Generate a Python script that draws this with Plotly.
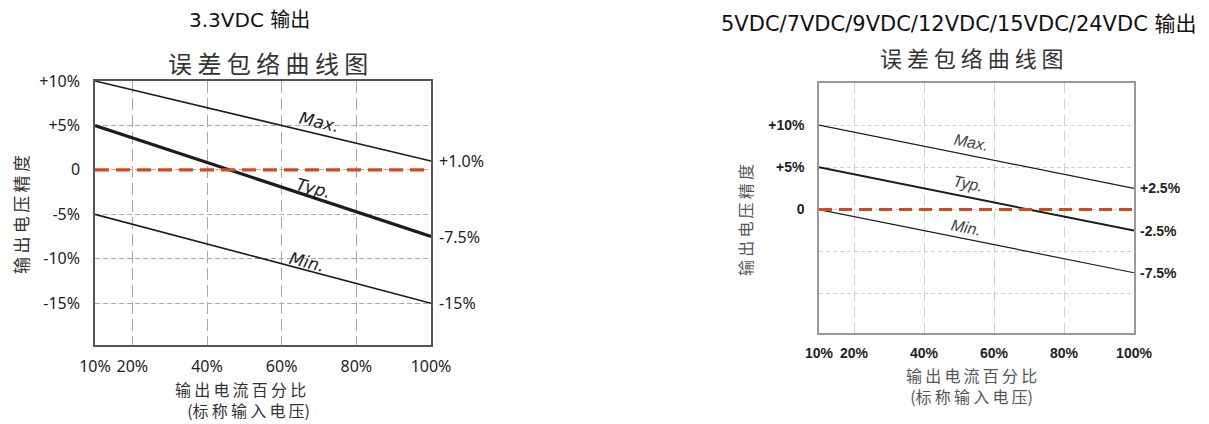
import plotly.graph_objects as go

# ---------------- data ----------------
x_pts = [10, 100]

left_max = [10, 1.0]
left_typ = [5, -7.5]
left_min = [-5, -15]

right_max = [10, 2.5]
right_typ = [5, -2.5]
right_min = [0, -7.5]

zero_line = [0, 0]

x_tickvals = [10, 20, 40, 60, 80, 100]
x_ticktext = ["10%", "20%", "40%", "60%", "80%", "100%"]

left_y_tickvals = [-15, -10, -5, 0, 5, 10]
left_y_ticktext = ["-15%", "-10%", "-5%", "0", "+5%", "+10%"]

right_y_tickvals = [-10, -5, 0, 5, 10]
right_y_ticktext = ["", "", "0", "+5%", "+10%"]

left_end_labels = ["+1.0%", "-7.5%", "-15%"]
right_end_labels = ["+2.5%", "-2.5%", "-7.5%"]

W, H = 1209, 424
OFF = 8  # page body margin
CJK = "Noto Sans CJK SC"
RED = "#d9481c"
INK = "#1c1c1c"


def px(v):
    return (v - OFF) / W


def py(v):
    return 1 - (v - OFF) / H


fig = go.Figure()

# left chart
fig.add_trace(go.Scatter(x=x_pts, y=left_max, mode="lines", line=dict(color=INK, width=1.6),
                         xaxis="x", yaxis="y", hoverinfo="skip"))
fig.add_trace(go.Scatter(x=x_pts, y=left_typ, mode="lines", line=dict(color=INK, width=3.2),
                         xaxis="x", yaxis="y", hoverinfo="skip"))
fig.add_trace(go.Scatter(x=x_pts, y=left_min, mode="lines", line=dict(color=INK, width=1.6),
                         xaxis="x", yaxis="y", hoverinfo="skip"))
fig.add_trace(go.Scatter(x=x_pts, y=zero_line, mode="lines",
                         line=dict(color=RED, width=3.2, dash="14px,7px"),
                         xaxis="x", yaxis="y", hoverinfo="skip"))

# right chart
fig.add_trace(go.Scatter(x=x_pts, y=right_max, mode="lines", line=dict(color=INK, width=1.2),
                         xaxis="x2", yaxis="y2", hoverinfo="skip"))
fig.add_trace(go.Scatter(x=x_pts, y=right_typ, mode="lines", line=dict(color=INK, width=2.0),
                         xaxis="x2", yaxis="y2", hoverinfo="skip"))
fig.add_trace(go.Scatter(x=x_pts, y=right_min, mode="lines", line=dict(color=INK, width=1.2),
                         xaxis="x2", yaxis="y2", hoverinfo="skip"))
fig.add_trace(go.Scatter(x=x_pts, y=zero_line, mode="lines",
                         line=dict(color=RED, width=3.2, dash="13px,7px"),
                         xaxis="x2", yaxis="y2", hoverinfo="skip"))

left_tick_font = dict(family="Noto Sans, DejaVu Sans", size=16, color="#222")
right_tick_font = dict(family="Liberation Sans, Arial", size=14, color="#222", weight="bold")

fig.update_layout(
    template="none",
    width=W, height=H,
    margin=dict(l=0, r=0, t=0, b=0, autoexpand=False),
    paper_bgcolor="white", plot_bgcolor="white",
    showlegend=False,
    xaxis=dict(domain=[px(95), px(431)], range=[10, 100], anchor="y", automargin=False,
               tickvals=x_tickvals, ticktext=x_ticktext, tickfont=left_tick_font,
               showgrid=True, gridcolor="#a8a8a8", gridwidth=1, griddash="12px,5px",
               showline=True, linecolor="#555", linewidth=1.5, mirror=True,
               ticks="", ticklabelstandoff=6, zeroline=False),
    yaxis=dict(domain=[py(345), py(81)], range=[-19.7, 10], anchor="x", automargin=False,
               tickvals=left_y_tickvals, ticktext=left_y_ticktext, tickfont=left_tick_font,
               showgrid=True, gridcolor="#a8a8a8", gridwidth=1, griddash="5px,3px",
               showline=True, linecolor="#555", linewidth=1.5, mirror=True,
               ticks="", ticklabelstandoff=10, zeroline=False),
    xaxis2=dict(domain=[px(819), px(1134)], range=[10, 100], anchor="y2", automargin=False,
                tickvals=x_tickvals, ticktext=x_ticktext, tickfont=right_tick_font,
                showgrid=True, gridcolor="#cfcfcf", gridwidth=1.2, griddash="10px,6px",
                showline=True, linecolor="#999", linewidth=1.5, mirror=True,
                ticks="", ticklabelstandoff=6, zeroline=False),
    yaxis2=dict(domain=[py(333), py(83)], range=[-14.64, 15], anchor="x2", automargin=False,
                tickvals=right_y_tickvals, ticktext=right_y_ticktext, tickfont=right_tick_font,
                showgrid=True, gridcolor="#cfcfcf", gridwidth=1, griddash="4px,3px",
                showline=True, linecolor="#999", linewidth=1.5, mirror=True,
                ticks="", ticklabelstandoff=10, zeroline=False),
)

ann = []


def text(x, y, s, size, family=CJK, color="#111", angle=0, xanchor="center", **kw):
    ann.append(dict(x=x, y=y, xref="paper", yref="paper", text=s, showarrow=False,
                    xanchor=xanchor, yanchor="middle", textangle=angle,
                    font=dict(family=family, size=size, color=color, **kw)))


# titles
text(px(249), py(20), "3.3VDC 输出", 20, family="DejaVu Sans, " + CJK, color="#111")
text(px(268), py(62), "误 差 包 络 曲 线 图", 24, color="#333")
text(px(959), py(24), "5VDC/7VDC/9VDC/12VDC/15VDC/24VDC 输出", 21, family="DejaVu Sans, " + CJK, color="#111")
text(px(972), py(57), "误 差 包 络 曲 线 图", 22, color="#333")

# axis titles
text(px(20), py(215), "输\u2009出\u2009电\u2009压\u2009精\u2009度", 17, color="#333", angle=-90)
text(px(745), py(220), "输\u2009出\u2009电\u2009压\u2009精\u2009度", 16, color="#555", angle=-90)
text(px(248), py(399.5),
     "输\u2009出\u2009电\u2009流\u2009百\u2009分\u2009比\u2003<br>(标\u2009称\u2009输\u2009入\u2009电\u2009压)",
     16, color="#333")
text(px(971), py(385),
     "输\u2009出\u2009电\u2009流\u2009百\u2009分\u2009比<br>(标\u2009称\u2009输\u2009入\u2009电\u2009压)",
     16, color="#555")

# end-of-line labels
for yv, s in zip([left_max[1], left_typ[1], left_min[1]], left_end_labels):
    ann.append(dict(x=100, y=yv, xref="x", yref="y", text=s, showarrow=False,
                    xanchor="left", yanchor="middle", xshift=6,
                    font=dict(family="Noto Sans, DejaVu Sans", size=16, color="#222")))
for yv, s in zip([right_max[1], right_typ[1], right_min[1]], right_end_labels):
    ann.append(dict(x=100, y=yv, xref="x2", yref="y2", text=s, showarrow=False,
                    xanchor="left", yanchor="middle", xshift=4,
                    font=dict(family="Liberation Sans, Arial", size=14, color="#222", weight="bold")))

# curve labels
curve_font_l = dict(family="DejaVu Sans", size=17, color="#222", style="italic")
curve_font_r = dict(family="Liberation Sans, Arial", size=16, color="#444", style="italic")
for xv, yv, s, a in [(70, 5.4, "Max.", 13), (68.4, -2.05, "Typ.", 15), (66.8, -10.4, "Min.", 14)]:
    ann.append(dict(x=xv, y=yv, xref="x", yref="y", text=s, showarrow=False,
                    xanchor="center", yanchor="middle", textangle=a, font=curve_font_l))
for xv, yv, s, a in [(53.7, 8.0, "Max.", 11), (52.6, 3.1, "Typ.", 11), (52, -2.14, "Min.", 11)]:
    ann.append(dict(x=xv, y=yv, xref="x2", yref="y2", text=s, showarrow=False,
                    xanchor="center", yanchor="middle", textangle=a, font=curve_font_r))

fig.update_layout(annotations=ann)
fig.write_html("out.html")
